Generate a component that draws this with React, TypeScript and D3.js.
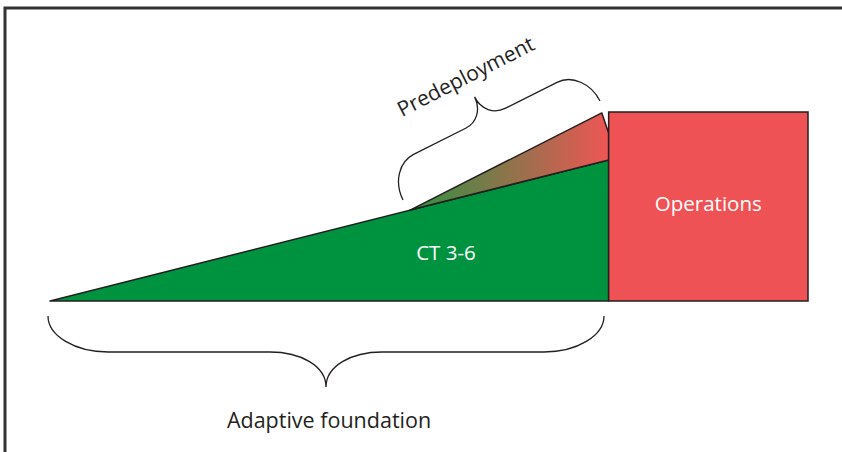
import React from 'react';
import * as d3 from 'd3';

// phase layout, in "time" (x, 0-100) and "capability" (y, 0-100) units
const rampX = [0, 73.7];            // green CT ramp start/end
const rampTopY = 74.6;              // height of the ramp where it meets operations
const predeployX = [47.5, 72.8, 73.7]; // wedge start, tip, right edge
const predeployY = [48.1, 99.5, 88.9]; // wedge start, tip, notch
const operationsX = [73.7, 100];
const operationsY = [0, 100];
const labels = ['CT 3-6', 'Operations', 'Predeployment', 'Adaptive foundation'];

const W = 842;
const H = 452;

const x = d3.scaleLinear().domain([0, 100]).range([50, 808]);
const y = d3.scaleLinear().domain([0, 100]).range([301, 112]);

const green = '#00933f';
const red = '#ef5255';
const ink = '#231f20';
const font = "'Open Sans', 'Noto Sans', sans-serif";

// curly brace from (0,0) to (len,0), opening toward +y
function brace(len: number, flat: number, depth: number, r: number, r2: number) {
  const m = len / 2;
  const p = d3.path();
  p.moveTo(0, 0);
  p.bezierCurveTo(0, flat * 0.55, r * 0.45, flat, r, flat);
  p.lineTo(m - r2, flat);
  p.bezierCurveTo(m - r2 * 0.45, flat, m, flat + (depth - flat) * 0.4, m, depth);
  p.bezierCurveTo(m, flat + (depth - flat) * 0.4, m + r2 * 0.45, flat, m + r2, flat);
  p.lineTo(len - r, flat);
  p.bezierCurveTo(len - r * 0.45, flat, len, flat * 0.55, len, 0);
  return p.toString();
}

export default function App() {
  const line = d3.line<[number, number]>().x(d => x(d[0])).y(d => y(d[1]));

  const ramp: [number, number][] = [
    [rampX[0], 0],
    [rampX[1], 0],
    [rampX[1], rampTopY],
  ];
  const wedge: [number, number][] = [
    [predeployX[0], predeployY[0]],
    [predeployX[1], predeployY[1]],
    [predeployX[2], predeployY[2]],
    [predeployX[2], rampTopY],
  ];

  // upper brace endpoints (opening toward the wedge)
  const ax = 600, ay = 101, bx = 403, by = 200;
  const upLen = Math.hypot(bx - ax, by - ay);
  const upAng = (Math.atan2(by - ay, bx - ax) * 180) / Math.PI;

  return (
    <svg width={W} height={H} style={{ position: 'absolute', left: 0, top: 0 }}>
      <rect width={W} height={H} fill="#fff" />
      <defs>
        <linearGradient id="pre" gradientUnits="userSpaceOnUse"
          x1={x(predeployX[0])} y1={0} x2={x(predeployX[2])} y2={0}>
          <stop offset="0" stopColor="#2f9142" />
          <stop offset="1" stopColor="#ee5654" />
        </linearGradient>
      </defs>

      {/* frame */}
      <path d={`M5,${H} L5,8 L${W},8`} fill="none" stroke="#333" strokeWidth={3} />

      <path d={line(ramp) + 'Z'} fill={green} stroke={ink} strokeWidth={1.5} strokeLinejoin="round" />
      <path d={line(wedge) + 'Z'} fill="url(#pre)" stroke={ink} strokeWidth={1.5} strokeLinejoin="round" />
      <rect x={x(operationsX[0])} y={y(operationsY[1])}
        width={x(operationsX[1]) - x(operationsX[0])} height={y(operationsY[0]) - y(operationsY[1])}
        fill={red} stroke={ink} strokeWidth={1.5} />

      <text x={446} y={260} fill="#fff" fontFamily={font} fontSize={20.5} textAnchor="middle">{labels[0]}</text>
      <text x={(x(operationsX[0]) + x(operationsX[1])) / 2} y={211} fill="#fff" fontFamily={font} fontSize={20.5} textAnchor="middle">{labels[1]}</text>

      {/* braces */}
      <path d={brace(556, 36, 71, 60, 56)} transform="translate(48,316)" fill="none" stroke={ink} strokeWidth={1.3} />
      <path d={brace(upLen, 36, 60, 30, 22)} transform={`translate(${ax},${ay}) rotate(${upAng})`} fill="none" stroke={ink} strokeWidth={1.3} />

      <text transform="translate(469,83) rotate(-27)" fill={ink} fontFamily={font} fontSize={21} textAnchor="middle">{labels[2]}</text>
      <text x={329} y={428} fill={ink} fontFamily={font} fontSize={21.5} textAnchor="middle">{labels[3]}</text>
    </svg>
  );
}
